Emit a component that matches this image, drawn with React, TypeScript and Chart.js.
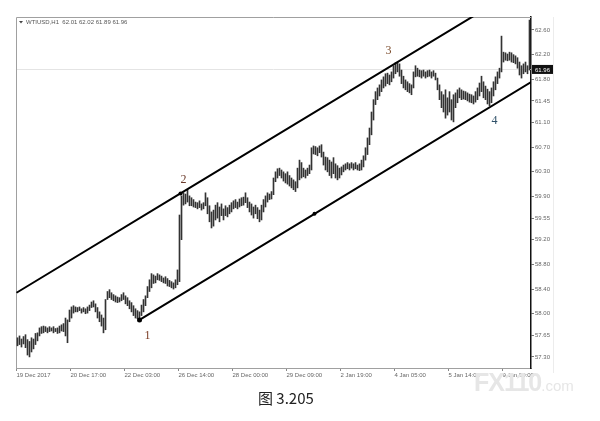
import React, { useEffect, useRef } from "react";
import { Chart, registerables } from "chart.js";

Chart.register(...registerables);

// ---- data ----
const symbolTitle = "WTIUSD,H1  62.01 62.02 61.89 61.96";
const currentPrice = 61.96;

const xTickLabels = [
  "19 Dec 2017", "20 Dec 17:00", "22 Dec 03:00", "26 Dec 14:00", "28 Dec 00:00",
  "29 Dec 09:00", "2 Jan 19:00", "4 Jan 05:00", "5 Jan 14:00", "9 Jan 00:00",
];
const barsPerLabel = 27;

const yTickValues = [62.6, 62.2, 61.8, 61.45, 61.1, 60.7, 60.3, 59.9, 59.55, 59.2, 58.8, 58.4, 58.0, 57.65, 57.3];

const highs = [
  57.61, 57.64, 57.59, 57.63, 57.66, 57.58, 57.55, 57.61, 57.59, 57.68,
  57.69, 57.77, 57.79, 57.80, 57.79, 57.77, 57.79, 57.77, 57.79, 57.76,
  57.77, 57.80, 57.82, 57.84, 57.93, 57.90, 58.06, 58.11, 58.13, 58.11,
  58.10, 58.11, 58.08, 58.10, 58.08, 58.11, 58.14, 58.19, 58.21, 58.16,
  58.10, 58.03, 57.98, 57.93, 58.23, 58.36, 58.39, 58.34, 58.31, 58.29,
  58.27, 58.26, 58.31, 58.34, 58.29, 58.26, 58.21, 58.18, 58.13, 58.08,
  58.05, 58.03, 58.14, 58.23, 58.29, 58.44, 58.55, 58.65, 58.63, 58.61,
  58.65, 58.63, 58.61, 58.58, 58.60, 58.57, 58.54, 58.52, 58.50, 58.55,
  58.71, 59.60, 59.91, 59.96, 59.94, 60.01, 59.91, 59.88, 59.85, 59.81,
  59.80, 59.83, 59.78, 59.80, 59.96, 59.88, 59.75, 59.65, 59.68, 59.76,
  59.80, 59.73, 59.78, 59.70, 59.75, 59.72, 59.76, 59.80, 59.83, 59.85,
  59.81, 59.86, 59.88, 59.89, 59.96, 59.88, 59.81, 59.78, 59.73, 59.76,
  59.72, 59.68, 59.76, 59.85, 59.91, 59.96, 59.94, 59.98, 60.20, 60.30,
  60.35, 60.36, 60.33, 60.30, 60.27, 60.30, 60.24, 60.20, 60.17, 60.14,
  60.36, 60.49, 60.45, 60.36, 60.33, 60.36, 60.41, 60.69, 60.72, 60.71,
  60.69, 60.72, 60.74, 60.62, 60.54, 60.53, 60.49, 60.46, 60.53, 60.43,
  60.40, 60.36, 60.38, 60.41, 60.43, 60.45, 60.43, 60.45, 60.43, 60.45,
  60.41, 60.43, 60.49, 60.56, 60.69, 60.85, 61.01, 61.27, 61.47, 61.60,
  61.66, 61.71, 61.79, 61.84, 61.89, 61.90, 61.87, 61.92, 62.02, 62.07,
  62.08, 62.05, 61.95, 61.85, 61.79, 61.76, 61.73, 61.71, 61.92, 62.02,
  61.98, 61.95, 61.94, 61.95, 61.92, 61.94, 61.95, 61.92, 61.94, 61.90,
  61.82, 61.71, 61.60, 61.55, 61.63, 61.50, 61.60, 61.47, 61.55, 61.58,
  61.63, 61.66, 61.63, 61.61, 61.60, 61.58, 61.56, 61.55, 61.53, 61.60,
  61.66, 61.74, 61.85, 61.76, 61.69, 61.64, 61.60, 61.66, 61.76, 61.84,
  61.92, 61.98, 62.50, 62.24, 62.23, 62.21, 62.24, 62.23, 62.20, 62.18,
  62.15, 62.08, 62.02, 62.05, 62.08, 62.02, 62.76,
];

const lows = [
  57.48, 57.50, 57.46, 57.51, 57.45, 57.33, 57.30, 57.38, 57.43, 57.50,
  57.56, 57.64, 57.68, 57.69, 57.71, 57.69, 57.71, 57.72, 57.69, 57.71,
  57.68, 57.69, 57.72, 57.71, 57.64, 57.53, 57.87, 57.93, 58.01, 58.03,
  58.03, 58.05, 58.01, 58.03, 58.00, 58.01, 58.05, 58.10, 58.11, 58.03,
  57.93, 57.87, 57.80, 57.69, 57.74, 58.23, 58.26, 58.23, 58.21, 58.19,
  58.18, 58.19, 58.21, 58.23, 58.16, 58.13, 58.08, 58.03, 57.97, 57.93,
  57.92, 57.90, 57.97, 58.03, 58.13, 58.26, 58.36, 58.42, 58.49, 58.50,
  58.55, 58.54, 58.52, 58.50, 58.49, 58.45, 58.44, 58.42, 58.40, 58.42,
  58.47, 58.52, 59.20, 59.76, 59.78, 59.81, 59.75, 59.75, 59.73, 59.72,
  59.70, 59.72, 59.68, 59.70, 59.75, 59.62, 59.49, 59.39, 59.42, 59.52,
  59.55, 59.49, 59.59, 59.52, 59.59, 59.57, 59.62, 59.65, 59.70, 59.72,
  59.70, 59.73, 59.75, 59.76, 59.80, 59.72, 59.65, 59.60, 59.55, 59.62,
  59.54, 59.49, 59.52, 59.65, 59.73, 59.81, 59.85, 59.86, 59.93, 60.14,
  60.20, 60.24, 60.20, 60.15, 60.12, 60.10, 60.07, 60.04, 60.01, 59.98,
  60.04, 60.17, 60.20, 60.22, 60.20, 60.24, 60.27, 60.33, 60.59, 60.58,
  60.56, 60.61, 60.54, 60.41, 60.33, 60.30, 60.24, 60.20, 60.27, 60.20,
  60.17, 60.20, 60.25, 60.30, 60.33, 60.35, 60.33, 60.36, 60.33, 60.35,
  60.33, 60.32, 60.33, 60.38, 60.49, 60.58, 60.74, 60.90, 61.14, 61.39,
  61.47, 61.53, 61.60, 61.66, 61.69, 61.73, 61.71, 61.76, 61.82, 61.89,
  61.92, 61.85, 61.73, 61.66, 61.63, 61.60, 61.58, 61.55, 61.66, 61.84,
  61.85, 61.84, 61.82, 61.85, 61.82, 61.84, 61.85, 61.82, 61.85, 61.79,
  61.63, 61.47, 61.34, 61.27, 61.17, 61.22, 61.27, 61.14, 61.11, 61.34,
  61.42, 61.50, 61.47, 61.48, 61.47, 61.45, 61.43, 61.42, 61.40, 61.43,
  61.47, 61.53, 61.60, 61.50, 61.47, 61.40, 61.37, 61.42, 61.53, 61.63,
  61.73, 61.82, 61.92, 62.08, 62.11, 62.10, 62.11, 62.08, 62.07, 62.05,
  61.98, 61.87, 61.82, 61.89, 61.92, 61.89, 61.95,
];

// channel trend lines (bar index, price)
const upperChannel = [
  { x: -0.5, y: 58.34 },
  { x: 81.5, y: 59.95 },
  { x: 240, y: 63.06 },
];
const lowerChannel = [
  { x: 61, y: 57.9 },
  { x: 148.5, y: 59.62 },
  { x: 257, y: 61.76 },
];

// wave count labels
const waveLabels = ["1", "2", "3", "4"];
const waveLabelX = [65, 83, 185.5, 238.5];
const waveLabelY = [57.64, 60.17, 62.26, 61.13];
const waveLabelColors = ["#7a3a22", "#6b3a2a", "#7a4a2a", "#2f5068"];

const captionText = "图 3.205";

export default function App() {
  const canvasRef = useRef<HTMLCanvasElement | null>(null);

  useEffect(() => {
    const canvas = canvasRef.current;
    if (!canvas) return;

    const decor = {
      id: "decor",
      beforeDatasetsDraw(chart: any) {
        const { ctx, chartArea: a, scales } = chart;
        const y = scales.y;
        ctx.save();
        const py = Math.round(y.getPixelForValue(currentPrice)) + 0.5;
        ctx.strokeStyle = "#e4e4e4";
        ctx.lineWidth = 1;
        ctx.beginPath();
        ctx.moveTo(a.left, py);
        ctx.lineTo(a.right, py);
        ctx.stroke();
        ctx.strokeStyle = "#a0a0a0";
        ctx.beginPath();
        ctx.moveTo(a.left + 0.5, a.bottom);
        ctx.lineTo(a.left + 0.5, a.top + 0.5);
        ctx.lineTo(a.right, a.top + 0.5);
        ctx.stroke();
        ctx.restore();
      },
      afterDatasetsDraw(chart: any) {
        const { ctx, chartArea: a, scales } = chart;
        const { x, y } = scales;
        ctx.save();
        ctx.font = "12px 'Liberation Serif'";
        ctx.textAlign = "center";
        ctx.textBaseline = "middle";
        waveLabels.forEach((t, i) => {
          ctx.fillStyle = waveLabelColors[i];
          ctx.fillText(t, x.getPixelForValue(waveLabelX[i]), y.getPixelForValue(waveLabelY[i]));
        });
        // symbol title
        ctx.fillStyle = "#444";
        ctx.beginPath();
        ctx.moveTo(a.left + 3, a.top + 4);
        ctx.lineTo(a.left + 7, a.top + 4);
        ctx.lineTo(a.left + 5, a.top + 6.5);
        ctx.closePath();
        ctx.fill();
        ctx.font = "6px 'Liberation Sans'";
        ctx.textAlign = "left";
        ctx.textBaseline = "middle";
        ctx.fillStyle = "#555";
        ctx.fillText(symbolTitle, a.left + 10, a.top + 5);
        ctx.restore();
      },
      afterDraw(chart: any) {
        const { ctx, chartArea: a, scales } = chart;
        const y = scales.y;
        ctx.save();
        const py = y.getPixelForValue(currentPrice);
        ctx.fillStyle = "#111";
        ctx.fillRect(a.right + 1, py - 4.5, 21, 9);
        ctx.fillStyle = "#fff";
        ctx.font = "6px 'Liberation Sans'";
        ctx.textAlign = "left";
        ctx.textBaseline = "middle";
        ctx.fillText(currentPrice.toFixed(2), a.right + 4, py + 0.5);
        // light frame edge at the right of the price scale
        ctx.strokeStyle = "#ececec";
        ctx.lineWidth = 1;
        ctx.beginPath();
        ctx.moveTo(a.right + 22.5, a.top);
        ctx.lineTo(a.right + 22.5, a.bottom + 5);
        ctx.stroke();
        ctx.restore();
      },
    };

    const chart = new Chart(canvas, {
      type: "bar",
      data: {
        datasets: [
          {
            type: "line",
            data: upperChannel,
            borderColor: "#000",
            borderWidth: 2,
            pointRadius: [0, 2, 0],
            pointBackgroundColor: "#000",
            pointBorderWidth: 0,
            fill: false,
            tension: 0,
            order: 0,
          } as any,
          {
            type: "line",
            data: lowerChannel,
            borderColor: "#000",
            borderWidth: 2,
            pointRadius: [2.5, 2, 0],
            pointBackgroundColor: "#000",
            pointBorderWidth: 0,
            fill: false,
            tension: 0,
            order: 0,
          } as any,
          {
            type: "bar",
            data: highs.map((h, i) => ({ x: i, y: [lows[i], h] })),
            backgroundColor: "#333",
            borderWidth: 0,
            barThickness: 1,
            grouped: false,
            order: 1,
          } as any,
        ],
      },
      options: {
        responsive: false,
        animation: false,
        events: [],
        layout: { padding: { left: 16, top: 17, right: 0, bottom: 0 } },
        plugins: { legend: { display: false }, tooltip: { enabled: false } },
        scales: {
          x: {
            type: "linear",
            offset: false,
            min: -0.75,
            max: 256.75,
            afterBuildTicks: (s: any) => {
              s.ticks = xTickLabels.map((_, k) => ({ value: -0.5 + k * barsPerLabel }));
            },
            afterFit: (s: any) => {
              s.height = 53;
            },
            ticks: {
              callback: (_v: any, i: number) => xTickLabels[i],
              align: "start",
              maxRotation: 0,
              autoSkip: false,
              color: "#666",
              font: { size: 6, family: "'Liberation Sans'" },
              padding: 1,
            },
            grid: { drawOnChartArea: false, offset: false, tickLength: 3, color: "#888" },
            border: { display: true, color: "#a0a0a0", width: 1 },
          },
          y: {
            type: "linear",
            position: "right",
            min: 57.12,
            max: 62.81,
            afterBuildTicks: (s: any) => {
              s.ticks = yTickValues.map((v) => ({ value: v }));
            },
            afterFit: (s: any) => {
              s.width = 69;
            },
            ticks: {
              callback: (v: any) => Number(v).toFixed(2),
              color: "#666",
              font: { size: 6, family: "'Liberation Sans'" },
              padding: 1,
            },
            grid: { drawOnChartArea: false, tickLength: 3, color: "#777" },
            border: { display: true, color: "#111", width: 1.5 },
          },
        },
      },
      plugins: [decor],
    } as any);

    return () => chart.destroy();
  }, []);

  return (
    <div style={{ position: "absolute", left: 0, top: 0, width: 600, height: 421, background: "#fff", overflow: "hidden" }}>
      <canvas ref={canvasRef} width={600} height={421} style={{ position: "absolute", left: 0, top: 0 }} />
      <div
        style={{
          position: "absolute",
          left: 474,
          top: 369,
          fontFamily: "'Liberation Sans', Arial, sans-serif",
          fontWeight: 700,
          color: "#e6e6e6",
          whiteSpace: "nowrap",
          lineHeight: "26px",
        }}
      >
        <span style={{ fontSize: 25, letterSpacing: -1 }}>FX110</span>
        <span style={{ fontSize: 15, fontWeight: 400 }}>.com</span>
      </div>
      <div
        style={{
          position: "absolute",
          left: 258,
          top: 389,
          fontFamily: "'Noto Sans CJK SC', 'Noto Sans', sans-serif",
          fontSize: 15,
          lineHeight: "18px",
          color: "#222",
          whiteSpace: "nowrap",
        }}
      >
        {captionText}
      </div>
    </div>
  );
}
